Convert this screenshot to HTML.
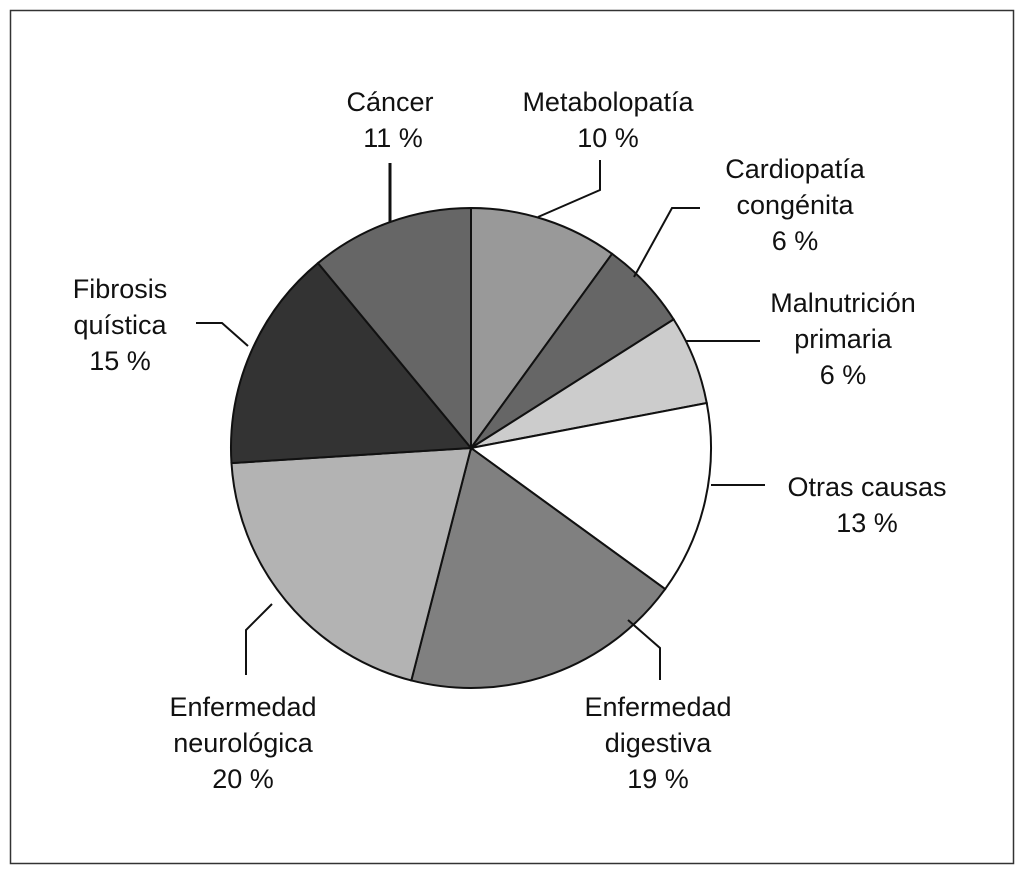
<!DOCTYPE html>
<html><head><meta charset="utf-8"><style>
body{margin:0;background:#fff;width:1024px;height:873px;overflow:hidden}
svg text{font-family:"Liberation Sans",sans-serif;font-size:27px;fill:#111;text-anchor:middle}
</style></head><body>
<svg id="chart" width="1024" height="873" viewBox="0 0 1024 873">
<rect x="10.5" y="10.5" width="1003" height="853" fill="#fff" stroke="#333" stroke-width="1.5"/>
<g id="slices"></g>
<g id="leaders" fill="none" stroke="#111" stroke-width="2">
<polyline points="538,217 600,190 600,160"/>
<polyline points="390,222 390,163" stroke-width="3"/>
<polyline points="634,277 672,208 700,208"/>
<polyline points="686,341 760,341"/>
<polyline points="711,485 765,485"/>
<polyline points="628,620 660,648 660,680"/>
<polyline points="272,604 246,630 246,675"/>
<polyline points="248,346 222,323 196,323"/>
</g>
<g><text x="390" y="111">Cáncer</text><text x="393" y="147">11 %</text></g>
<g><text x="608" y="111">Metabolopatía</text><text x="608" y="147">10 %</text></g>
<g><text x="795" y="178">Cardiopatía</text><text x="795" y="214">congénita</text><text x="795" y="250">6 %</text></g>
<g><text x="843" y="312">Malnutrición</text><text x="843" y="348">primaria</text><text x="843" y="384">6 %</text></g>
<g><text x="867" y="496">Otras causas</text><text x="867" y="532">13 %</text></g>
<g><text x="658" y="716">Enfermedad</text><text x="658" y="752">digestiva</text><text x="658" y="788">19 %</text></g>
<g><text x="243" y="716">Enfermedad</text><text x="243" y="752">neurológica</text><text x="243" y="788">20 %</text></g>
<g><text x="120" y="298">Fibrosis</text><text x="120" y="334">quística</text><text x="120" y="370">15 %</text></g>
</svg>
<script>
const categories=["Metabolopatía","Cardiopatía congénita","Malnutrición primaria","Otras causas","Enfermedad digestiva","Enfermedad neurológica","Fibrosis quística","Cáncer"];
const values=[10,6,6,13,19,20,15,11];
const fills=["#999999","#666666","#cccccc","#ffffff","#808080","#b3b3b3","#333333","#666666"];
const cx=471,cy=448,r=240,startDeg=0;
const total=values.reduce((a,b)=>a+b,0);
const g=document.getElementById('slices');
let acc=0;
function pt(deg){const a=(deg+startDeg)*Math.PI/180;return [cx+r*Math.sin(a),cy-r*Math.cos(a)];}
values.forEach((v,i)=>{
  const a0=acc/total*360,a1=(acc+v)/total*360;acc+=v;
  const p0=pt(a0),p1=pt(a1);
  const large=(a1-a0)>180?1:0;
  const p=document.createElementNS('http://www.w3.org/2000/svg','path');
  p.setAttribute('d',`M${cx},${cy} L${p0[0]},${p0[1]} A${r},${r} 0 ${large} 1 ${p1[0]},${p1[1]} Z`);
  p.setAttribute('fill',fills[i]);
  p.setAttribute('stroke','#111');
  p.setAttribute('stroke-width','2');
  
  
  g.appendChild(p);
});
</script>
</body></html>
